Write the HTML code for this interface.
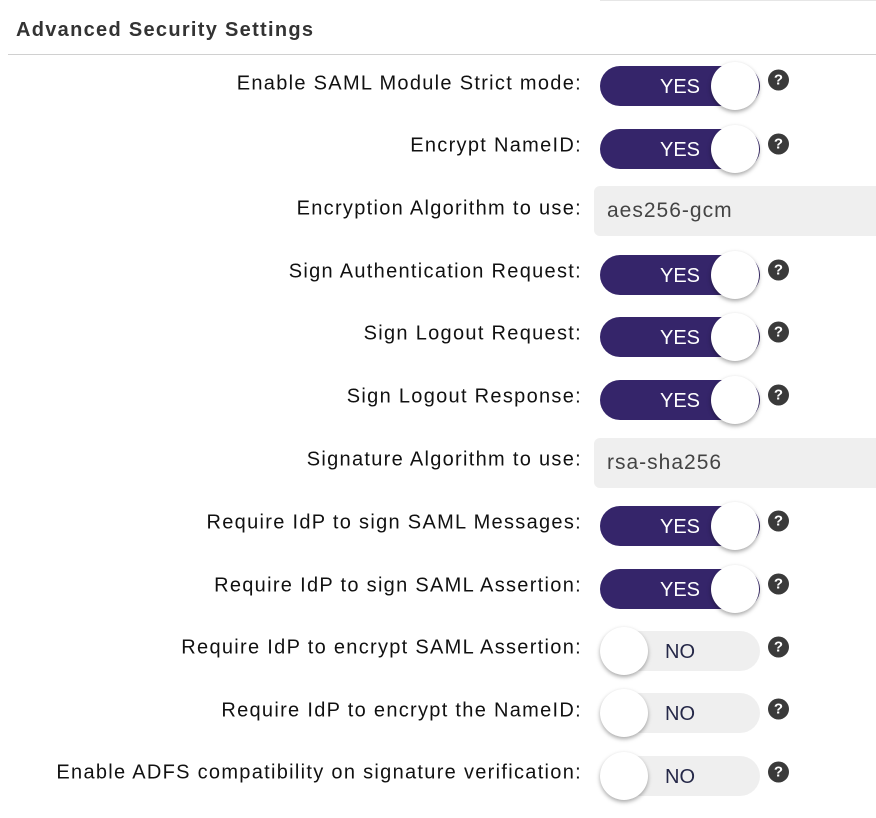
<!DOCTYPE html>
<html><head><meta charset="utf-8"><style>
body{margin:0;width:876px;height:818px;background:#fff;position:relative;overflow:hidden;font-family:"Liberation Sans",sans-serif}
.top{position:absolute;left:600px;top:-1px;width:276px;height:2px;background:#e6e6e6}
h1{position:absolute;left:16px;top:19px;margin:0;font-size:20px;font-weight:bold;color:#333;letter-spacing:1.3px}
.hr{position:absolute;left:8px;top:54px;width:868px;height:1px;background:#d0d0d0}
.lab{position:absolute;right:294px;font-size:20px;letter-spacing:1.3px;color:#111;white-space:nowrap;transform:translateY(-50%)}
.tg{position:absolute;left:600px;width:160px;height:40px;border-radius:20px;transform:translateY(-50%)}
.tg.y{background:#35256a}.tg.n{background:#efefef}
.tg span{position:absolute;top:10px;font-size:20px;line-height:22px}
.tg.y span{left:60px;color:#fff}.tg.n span{left:65px;color:#252848}
.kn{position:absolute;top:-4px;width:48px;height:48px;border-radius:50%;background:#fff;box-shadow:0 2px 4px rgba(0,0,0,.35)}
.tg.y .kn{left:111px}.tg.n .kn{left:0}
.q{position:absolute;left:768px;width:21px;height:21px;border-radius:50%;background:#3a3a3a;color:#fff;font-size:15px;font-weight:bold;text-align:center;line-height:21px;transform:translateY(-50%)}
.in{position:absolute;left:594px;width:290px;height:50px;border-radius:6px;background:#efefef;transform:translateY(-50%);color:#444;font-size:21px;letter-spacing:1px;line-height:50px;padding-left:13px;box-sizing:border-box}
</style></head><body>
<div class="top"></div>
<h1>Advanced Security Settings</h1>
<div class="hr"></div>

<div class="lab" style="top:84px">Enable SAML Module Strict mode:</div>
<div class="tg y" style="top:86px"><span>YES</span><div class="kn"></div></div><div class="q" style="top:80px">?</div>

<div class="lab" style="top:146px">Encrypt NameID:</div>
<div class="tg y" style="top:149px"><span>YES</span><div class="kn"></div></div><div class="q" style="top:144px">?</div>

<div class="lab" style="top:209px">Encryption Algorithm to use:</div>
<div class="in" style="top:211px">aes256-gcm</div>

<div class="lab" style="top:272px">Sign Authentication Request:</div>
<div class="tg y" style="top:275px"><span>YES</span><div class="kn"></div></div><div class="q" style="top:270px">?</div>

<div class="lab" style="top:334px">Sign Logout Request:</div>
<div class="tg y" style="top:337px"><span>YES</span><div class="kn"></div></div><div class="q" style="top:332px">?</div>

<div class="lab" style="top:397px">Sign Logout Response:</div>
<div class="tg y" style="top:400px"><span>YES</span><div class="kn"></div></div><div class="q" style="top:395px">?</div>

<div class="lab" style="top:460px">Signature Algorithm to use:</div>
<div class="in" style="top:463px">rsa-sha256</div>

<div class="lab" style="top:523px">Require IdP to sign SAML Messages:</div>
<div class="tg y" style="top:526px"><span>YES</span><div class="kn"></div></div><div class="q" style="top:521px">?</div>

<div class="lab" style="top:586px">Require IdP to sign SAML Assertion:</div>
<div class="tg y" style="top:589px"><span>YES</span><div class="kn"></div></div><div class="q" style="top:584px">?</div>

<div class="lab" style="top:648px">Require IdP to encrypt SAML Assertion:</div>
<div class="tg n" style="top:651px"><span>NO</span><div class="kn"></div></div><div class="q" style="top:647px">?</div>

<div class="lab" style="top:711px">Require IdP to encrypt the NameID:</div>
<div class="tg n" style="top:713px"><span>NO</span><div class="kn"></div></div><div class="q" style="top:709px">?</div>

<div class="lab" style="top:773px">Enable ADFS compatibility on signature verification:</div>
<div class="tg n" style="top:776px"><span>NO</span><div class="kn"></div></div><div class="q" style="top:772px">?</div>
</body></html>
